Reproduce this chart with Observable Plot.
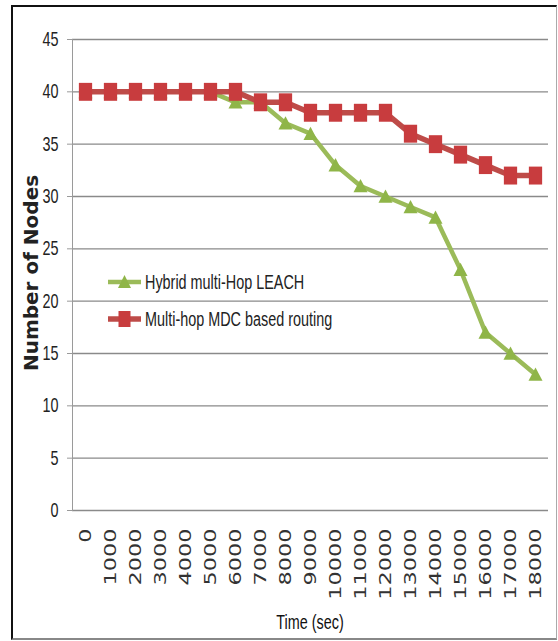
<!DOCTYPE html>
<html>
<head>
<meta charset="utf-8">
<script src="https://cdn.jsdelivr.net/npm/d3@7"></script>
<script src="https://cdn.jsdelivr.net/npm/@observablehq/plot@0.6"></script>
<style>
  body { margin: 0; background: #fff; }
  #wrap { position: relative; width: 558px; height: 641px; overflow: hidden; background: #fff; }
  #wrap svg { position: absolute; left: 0; top: 0; }
  #frame { position: absolute; left: 11px; top: 5px; width: 546px; height: 635px; box-sizing: border-box;
           border-top: 2px solid #111; border-left: 2px solid #111; border-right: 1px solid #aaa; border-bottom: 2px solid #888;
           pointer-events: none; }
  #legend { position: absolute; left: 108px; top: 270px; font-family: 'Liberation Sans', Arial, sans-serif;
            font-size: 20px; color: #222; }
  #legend .row { display: flex; align-items: center; height: 24px; margin-bottom: 13px; white-space: nowrap; }
  #legend svg { position: static; margin-right: 3px; }
  #legend span { display: inline-block; transform: scaleX(0.72); transform-origin: left center; }
</style>
</head>
<body>
<div id="wrap">
  <div id="chart"></div>
  <div id="legend"></div>
  <div id="frame"></div>
</div>
<script>
// Simulation time steps (sec) and surviving node counts for each protocol
const times = ["0","1000","2000","3000","4000","5000","6000","7000","8000","9000",
               "10000","11000","12000","13000","14000","15000","16000","17000","18000"];
const leach = [40,40,40,40,40,40,39,39,37,36,33,31,30,29,28,23,17,15,13];
const mdc   = [40,40,40,40,40,40,40,39,39,38,38,38,38,36,35,34,33,32,32];
const seriesNames = ["Hybrid multi-Hop LEACH", "Multi-hop MDC based routing"];
const yTicks = [0,5,10,15,20,25,30,35,40,45];

const green = "#9BBB59", greenMark = "#8FB548";
const red = "#BE4B48", redMark = "#C83C3E";
const sans = "'Liberation Sans', Arial, sans-serif";

const leachData = times.map((t, i) => ({time: t, nodes: leach[i]}));
const mdcData = times.map((t, i) => ({time: t, nodes: mdc[i]}));

// Marker shapes: a tall rectangle and an upward triangle
const rectSymbol = {
  draw(ctx, size) {
    const s = Math.sqrt(size / Math.PI), w = s * 0.85, h = s * 1.15;
    ctx.moveTo(-w, -h); ctx.lineTo(w, -h); ctx.lineTo(w, h); ctx.lineTo(-w, h); ctx.closePath();
  }
};
const triSymbol = {
  draw(ctx, size) {
    const s = Math.sqrt(size / Math.PI);
    ctx.moveTo(0, -s); ctx.lineTo(s, s * 0.9); ctx.lineTo(-s, s * 0.9); ctx.closePath();
  }
};

const chart = Plot.plot({
  width: 558,
  height: 641,
  marginLeft: 72,
  marginRight: 10,
  marginTop: 39,
  marginBottom: 131,
  style: {background: "transparent"},
  x: {type: "point", domain: times, padding: 0.5, axis: null},
  y: {domain: [0, 45], axis: null},
  marks: [
    Plot.gridY(yTicks, {stroke: "#8a8a8a", strokeOpacity: 1, strokeWidth: 1.3}),
    Plot.frame({anchor: "left", stroke: "#9a9a9a"}),
    Plot.axisY(yTicks, {tickSize: 5, tickPadding: 9, stroke: "#9a9a9a", fill: "#222",
                        fontFamily: sans, fontSize: 20, label: null, className: "yax"}),
    Plot.text(times, {x: d => d, frameAnchor: "bottom", dy: 18, rotate: -90, textAnchor: "end",
                      lineAnchor: "middle", fontFamily: "DejaVu Sans", fontSize: 16.5, fill: "#333",
                      className: "xlab"}),
    Plot.line(leachData, {x: "time", y: "nodes", stroke: green, strokeWidth: 4.5}),
    Plot.dot(leachData, {x: "time", y: "nodes", symbol: triSymbol, r: 7, fill: greenMark}),
    Plot.line(mdcData, {x: "time", y: "nodes", stroke: red, strokeWidth: 5.5}),
    Plot.dot(mdcData, {x: "time", y: "nodes", symbol: rectSymbol, r: 7.8, fill: redMark})
  ]
});

document.getElementById("chart").append(chart);

const svg = d3.select(chart);

// Condense the value labels horizontally, widen the rotated time labels along their length
function appendTransform(sel, t) {
  sel.each(function () {
    const cur = this.getAttribute("transform") || "";
    this.setAttribute("transform", (cur + " " + t).trim());
  });
}
appendTransform(svg.selectAll(".yax text"), "scale(0.72,1)");
appendTransform(svg.selectAll(".xlab text"), "scale(1.36,1)");

svg.append("text")
  .attr("transform", "translate(31,273) rotate(-90)")
  .attr("text-anchor", "middle")
  .attr("dominant-baseline", "central")
  .attr("fill", "#222")
  .style("font-family", "'DejaVu Sans', sans-serif")
  .style("font-weight", "bold")
  .style("font-size", "20px")
  .text("Number of Nodes");

svg.append("text")
  .attr("transform", "translate(310,622) scale(0.72,1)")
  .attr("text-anchor", "middle")
  .attr("dominant-baseline", "central")
  .attr("fill", "#111")
  .style("font-family", sans)
  .style("font-size", "20px")
  .text("Time (sec)");

// Legend rows with line-and-marker swatches
const legend = d3.select("#legend");
const swatches = [
  {name: seriesNames[0], stroke: green, fill: greenMark, shape: "tri"},
  {name: seriesNames[1], stroke: red, fill: redMark, shape: "rect"}
];
for (const s of swatches) {
  const row = legend.append("div").attr("class", "row");
  const sw = row.append("svg").attr("width", 34).attr("height", 24);
  sw.append("line").attr("x1", 0).attr("x2", 33).attr("y1", 12).attr("y2", 12)
    .attr("stroke", s.stroke).attr("stroke-width", s.shape === "rect" ? 5.5 : 4.5);
  if (s.shape === "tri") {
    sw.append("path").attr("d", "M16.5,5 L23,18 L10,18 Z").attr("fill", s.fill);
  } else {
    sw.append("rect").attr("x", 10.5).attr("y", 4).attr("width", 12).attr("height", 16).attr("fill", s.fill);
  }
  row.append("span").text(s.name);
}
</script>
</body>
</html>
